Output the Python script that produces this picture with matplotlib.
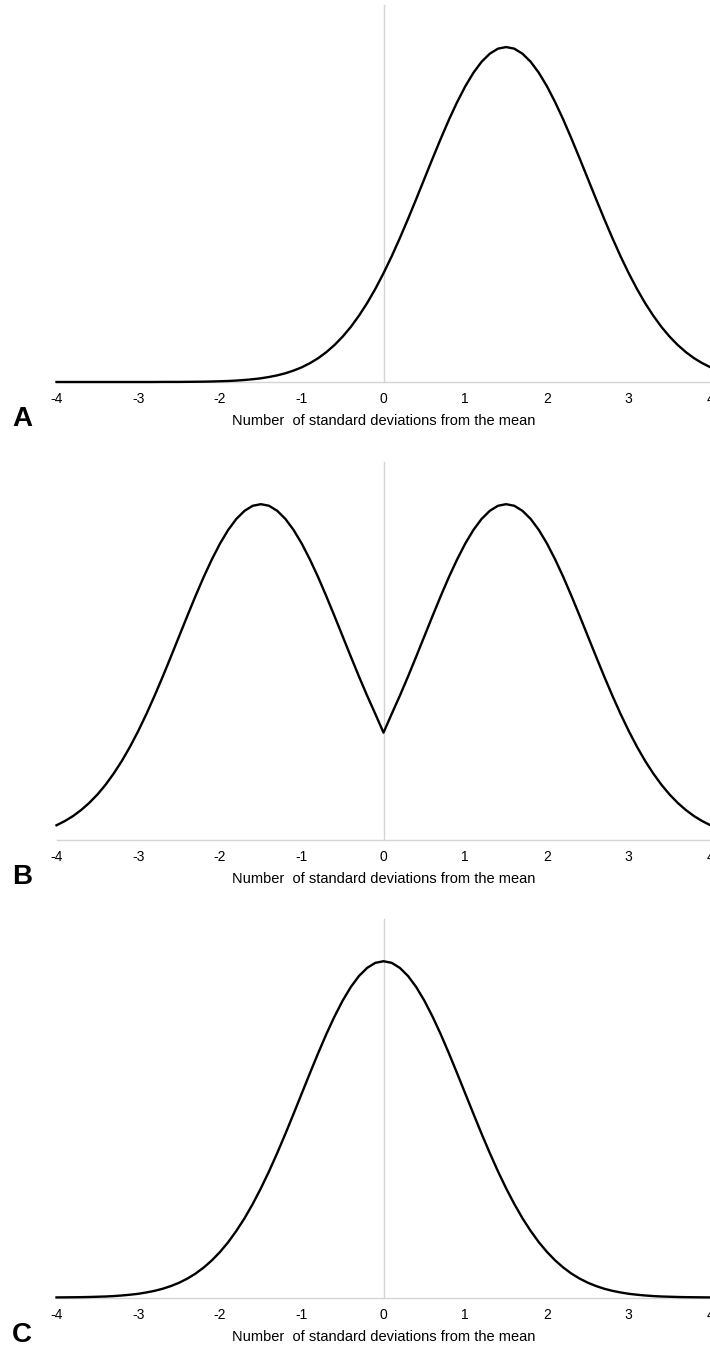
import matplotlib
matplotlib.use("Agg")
import matplotlib.pyplot as plt

plt.rcParams['font.family'] = ['Liberation Sans', 'DejaVu Sans']

# x positions (standard deviations from the mean)
x_sd = [-4.0, -3.9, -3.8, -3.7, -3.6, -3.5, -3.4, -3.3, -3.2, -3.1,
        -3.0, -2.9, -2.8, -2.7, -2.6, -2.5, -2.4, -2.3, -2.2, -2.1,
        -2.0, -1.9, -1.8, -1.7, -1.6, -1.5, -1.4, -1.3, -1.2, -1.1,
        -1.0, -0.9, -0.8, -0.7, -0.6, -0.5, -0.4, -0.3, -0.2, -0.1,
        0.0,
        0.1, 0.2, 0.3, 0.4, 0.5, 0.6, 0.7, 0.8, 0.9, 1.0,
        1.1, 1.2, 1.3, 1.4, 1.5, 1.6, 1.7, 1.8, 1.9, 2.0,
        2.1, 2.2, 2.3, 2.4, 2.5, 2.6, 2.7, 2.8, 2.9, 3.0,
        3.1, 3.2, 3.3, 3.4, 3.5, 3.6, 3.7, 3.8, 3.9, 4.0]

# Panel A: distribution shifted to the right (peak near +1.5)
density_a = [0.0000, 0.0000, 0.0000, 0.0000, 0.0000, 0.0000, 0.0000, 0.0000, 0.0000, 0.0000,
             0.0000, 0.0000, 0.0000, 0.0001, 0.0001, 0.0001, 0.0002, 0.0003, 0.0004, 0.0006,
             0.0009, 0.0012, 0.0017, 0.0024, 0.0033, 0.0044, 0.0060, 0.0079, 0.0104, 0.0136,
             0.0175, 0.0224, 0.0283, 0.0355, 0.0440, 0.0540, 0.0656, 0.0790, 0.0940, 0.1109,
             0.1295,
             0.1497, 0.1714, 0.1942, 0.2179, 0.2420, 0.2661, 0.2897, 0.3123, 0.3332, 0.3521,
             0.3683, 0.3814, 0.3910, 0.3970, 0.3989, 0.3970, 0.3910, 0.3814, 0.3683, 0.3521,
             0.3332, 0.3123, 0.2897, 0.2661, 0.2420, 0.2179, 0.1942, 0.1714, 0.1497, 0.1295,
             0.1109, 0.0940, 0.0790, 0.0656, 0.0540, 0.0440, 0.0355, 0.0283, 0.0224, 0.0175]

# Panel B: bimodal distribution (peaks near -1.5 and +1.5, dip at 0)
density_b = [0.0175, 0.0224, 0.0283, 0.0355, 0.0440, 0.0540, 0.0656, 0.0790, 0.0940, 0.1109,
             0.1295, 0.1497, 0.1714, 0.1942, 0.2179, 0.2420, 0.2661, 0.2897, 0.3123, 0.3332,
             0.3521, 0.3683, 0.3814, 0.3910, 0.3970, 0.3989, 0.3970, 0.3910, 0.3814, 0.3683,
             0.3521, 0.3332, 0.3123, 0.2897, 0.2661, 0.2420, 0.2179, 0.1942, 0.1714, 0.1497,
             0.1275,
             0.1497, 0.1714, 0.1942, 0.2179, 0.2420, 0.2661, 0.2897, 0.3123, 0.3332, 0.3521,
             0.3683, 0.3814, 0.3910, 0.3970, 0.3989, 0.3970, 0.3910, 0.3814, 0.3683, 0.3521,
             0.3332, 0.3123, 0.2897, 0.2661, 0.2420, 0.2179, 0.1942, 0.1714, 0.1497, 0.1295,
             0.1109, 0.0940, 0.0790, 0.0656, 0.0540, 0.0440, 0.0355, 0.0283, 0.0224, 0.0175]

# Panel C: standard normal distribution centred on 0
density_c = [0.0001, 0.0002, 0.0003, 0.0004, 0.0006, 0.0009, 0.0012, 0.0017, 0.0024, 0.0033,
             0.0044, 0.0060, 0.0079, 0.0104, 0.0136, 0.0175, 0.0224, 0.0283, 0.0355, 0.0440,
             0.0540, 0.0656, 0.0790, 0.0940, 0.1109, 0.1295, 0.1497, 0.1714, 0.1942, 0.2179,
             0.2420, 0.2661, 0.2897, 0.3123, 0.3332, 0.3521, 0.3683, 0.3814, 0.3910, 0.3970,
             0.3989,
             0.3970, 0.3910, 0.3814, 0.3683, 0.3521, 0.3332, 0.3123, 0.2897, 0.2661, 0.2420,
             0.2179, 0.1942, 0.1714, 0.1497, 0.1295, 0.1109, 0.0940, 0.0790, 0.0656, 0.0540,
             0.0440, 0.0355, 0.0283, 0.0224, 0.0175, 0.0136, 0.0104, 0.0079, 0.0060, 0.0044,
             0.0033, 0.0024, 0.0017, 0.0012, 0.0009, 0.0006, 0.0004, 0.0003, 0.0002, 0.0001]

tick_values = [-4, -3, -2, -1, 0, 1, 2, 3, 4]
tick_labels = ['-4', '-3', '-2', '-1', '0', '1', '2', '3', '4']
panel_letters = ['A', 'B', 'C']
x_label = 'Number  of standard deviations from the mean'

W, H = 710, 1345
fig = plt.figure(figsize=(W / 100, H / 100), dpi=100)

# (baseline px, top px) of each panel
panel_px = [(382, 5), (840, 462), (1297.5, 919)]
left_px, right_px = 56.5, 710.5
series = [density_a, density_b, density_c]
grey = '#d4d4d4'

for (base, top), dens, letter in zip(panel_px, series, panel_letters):
    ax = fig.add_axes([left_px / W, 1 - base / H, (right_px - left_px) / W, (base - top) / H])
    ax.plot(x_sd, dens, color='black', lw=1.7, solid_joinstyle='round', clip_on=False, zorder=3)
    ax.set_xlim(-4, 4)
    ax.set_ylim(0, 0.449)
    for s in ['top', 'right']:
        ax.spines[s].set_visible(False)
    ax.spines['left'].set_position(('data', 0))
    ax.spines['left'].set_color(grey)
    ax.spines['left'].set_linewidth(1.0)
    ax.spines['bottom'].set_color(grey)
    ax.spines['bottom'].set_linewidth(1.0)
    ax.set_yticks([])
    ax.set_xticks(tick_values)
    ax.set_xticklabels(tick_labels)
    ax.tick_params(axis='x', length=0, pad=7.5, labelsize=10, colors='black')
    ax.set_xlabel(x_label, fontsize=10.5, labelpad=5.5)
    ax.xaxis.label.set_position(((383.5 - left_px) / (right_px - left_px), 0))
    fig.text(12 / W, 1 - (base + 44) / H, letter, fontsize=20, fontweight='bold',
             ha='left', va='baseline')

fig.savefig('out.png', dpi=100)
